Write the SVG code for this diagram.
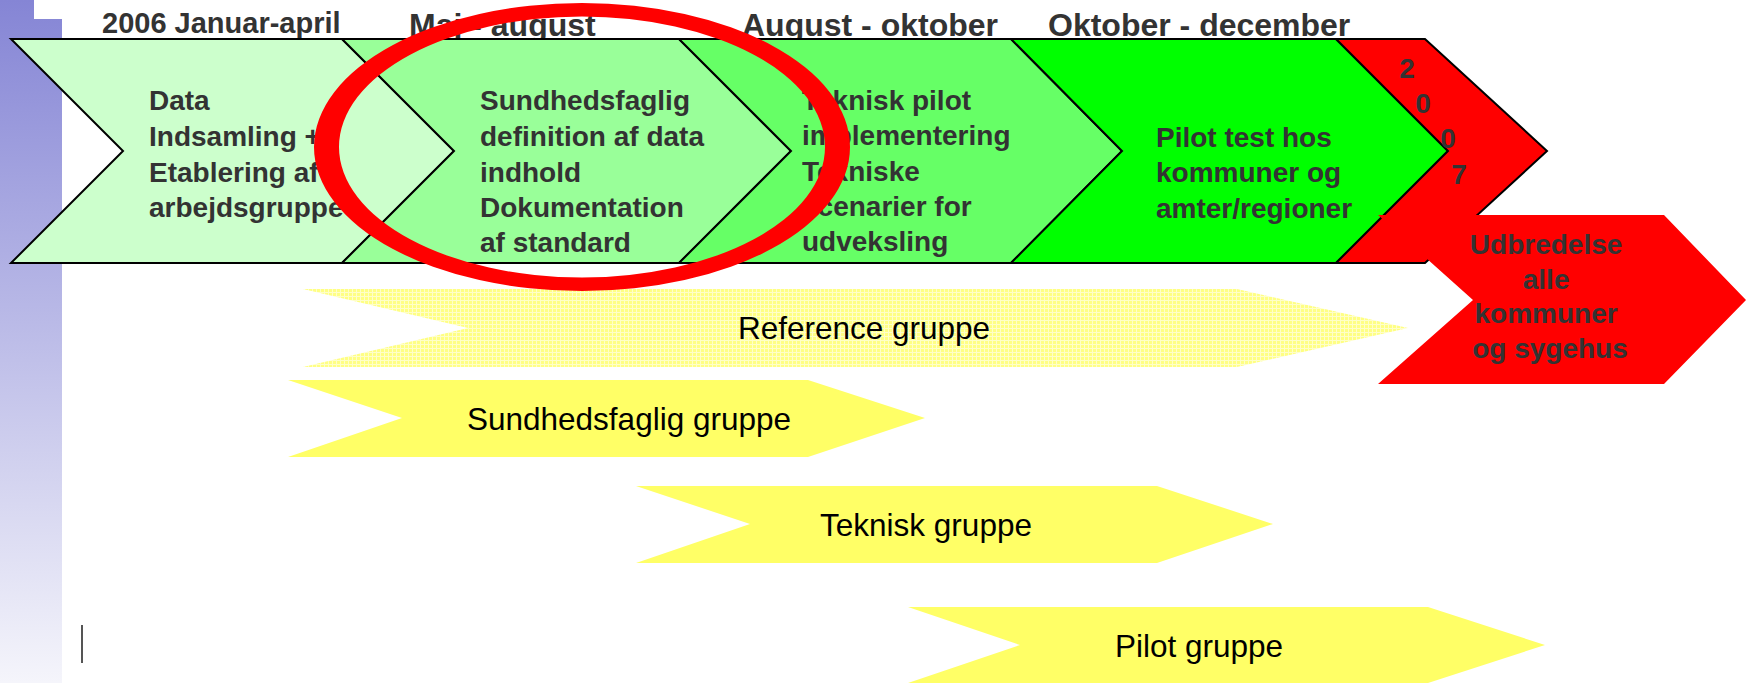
<svg xmlns="http://www.w3.org/2000/svg" width="1746" height="683" viewBox="0 0 1746 683">
<defs>
<linearGradient id="sidebarGrad" x1="0" y1="0" x2="0" y2="1">
<stop offset="0" stop-color="#8585d5"/>
<stop offset="1" stop-color="#f5f5fb"/>
</linearGradient>
<pattern id="hatch" width="4" height="4" patternUnits="userSpaceOnUse">
<rect width="4" height="4" fill="#ffff84"/>
<path d="M0 0.5H4M0.5 0V4" stroke="#ffffc8" stroke-width="1"/>
</pattern>
</defs>
<style>
.chev{stroke:#000;stroke-width:2;stroke-linejoin:miter}
.ct{font-family:"Liberation Sans",Arial,sans-serif;font-weight:bold;font-size:28px;fill:#333333}
.hd{font-family:"Liberation Sans",Arial,sans-serif;font-weight:bold;font-size:32px;fill:#333333}
.yl{fill:#ffff66}
.yt{font-family:"Liberation Sans",Arial,sans-serif;font-size:31.5px;fill:#000000;text-anchor:middle}
</style>
<rect width="1746" height="683" fill="#ffffff"/>
<path id="sidebar" d="M0 0H34V19H62V683H0Z" fill="url(#sidebarGrad)"/>
<g id="headers">
<text class="hd" x="102" y="33" style="font-size:29px">2006 Januar-april</text>
<text class="hd" x="409" y="35.5">Maj - august</text>
<text class="hd" x="742" y="36">August - oktober</text>
<text class="hd" x="1048" y="36">Oktober - december</text>
</g>
<g id="phase1">
<polygon class="chev" points="11,39 342,39 454,151 342,263 11,263 123,151" fill="#ccffcc"/>
</g>
<g id="phase2">
<polygon class="chev" points="342,39 679,39 791,151 679,263 342,263 454,151" fill="#99ff99"/>
</g>
<g id="phase3">
<polygon class="chev" points="679,39 1011,39 1122,151 1011,263 679,263 791,151" fill="#66ff66"/>
</g>
<g id="phase4">
<polygon class="chev" points="1011,39 1336,39 1448,151 1336,263 1011,263 1122,151" fill="#00ff00"/>
</g>
<g id="phase2007">
<polygon class="chev" points="1336,39 1425,39 1547,151 1425,263 1336,263 1448,151" fill="#ff0000"/>
</g>
<g id="udbredelse">
<polygon points="1378,215 1664,215 1746,300 1664,384 1378,384 1473,300" fill="#ff0000"/>
<text class="ct" text-anchor="middle">
<tspan x="1550" y="254">Udbredelse</tspan>
<tspan x="1550" y="288.5">alle</tspan>
<tspan x="1550" y="323">kommuner</tspan>
<tspan x="1550" y="357.5">og sygehus</tspan>
</text>
</g>
<g id="phase1-text">
<text class="ct">
<tspan x="149" y="110">Data</tspan>
<tspan x="149" y="146">Indsamling +</tspan>
<tspan x="149" y="181.5">Etablering af</tspan>
<tspan x="149" y="217">arbejdsgruppe</tspan>
</text>
</g>
<g id="phase2-text">
<text class="ct">
<tspan x="480" y="110">Sundhedsfaglig</tspan>
<tspan x="480" y="146">definition af data</tspan>
<tspan x="480" y="181.5">indhold</tspan>
<tspan x="480" y="217">Dokumentation</tspan>
<tspan x="480" y="252">af standard</tspan>
</text>
</g>
<g id="phase3-text">
<text class="ct">
<tspan x="802" y="109.5">Teknisk pilot</tspan>
<tspan x="802" y="145">implementering</tspan>
<tspan x="802" y="180.5">Tekniske</tspan>
<tspan x="802" y="216">scenarier for</tspan>
<tspan x="802" y="251">udveksling</tspan>
</text>
</g>
<g id="phase4-text">
<text class="ct">
<tspan x="1156" y="147">Pilot test hos</tspan>
<tspan x="1156" y="182">kommuner og</tspan>
<tspan x="1156" y="217.5">amter/regioner</tspan>
</text>
</g>
<g id="phase2007-text">
<text class="ct" text-anchor="middle">
<tspan x="1411" y="78">2</tspan>
<tspan x="1427" y="113">0</tspan>
<tspan x="1452" y="148">0</tspan>
<tspan x="1459" y="184">7</tspan>
</text>
</g>
<g id="reference-gruppe">
<polygon points="303,289 1237,289 1408,328 1237,367 303,367 468,328" fill="url(#hatch)"/>
<text class="yt" x="864" y="339">Reference gruppe</text>
</g>
<g id="sundhedsfaglig-gruppe">
<polygon class="yl" points="288,380 808,380 925,418 808,457 288,457 402,418"/>
<text class="yt" x="629" y="430">Sundhedsfaglig gruppe</text>
</g>
<g id="teknisk-gruppe">
<polygon class="yl" points="636,486 1157,486 1273,524 1157,563 636,563 750,524"/>
<text class="yt" x="926" y="536">Teknisk gruppe</text>
</g>
<g id="pilot-gruppe">
<polygon class="yl" points="908,607 1428,607 1545,645 1428,683 908,683 1020,645"/>
<text class="yt" x="1199" y="657">Pilot gruppe</text>
</g>
<path id="highlight" fill="#ff0000" fill-rule="evenodd" d="M314 147a268 144 0 1 0 536 0a268 144 0 1 0 -536 0ZM339 147a243 130.5 0 1 0 486 0a243 130.5 0 1 0 -486 0Z"/>
<line id="cursor" x1="82" y1="625" x2="82" y2="663" stroke="#555555" stroke-width="2"/>
</svg>
